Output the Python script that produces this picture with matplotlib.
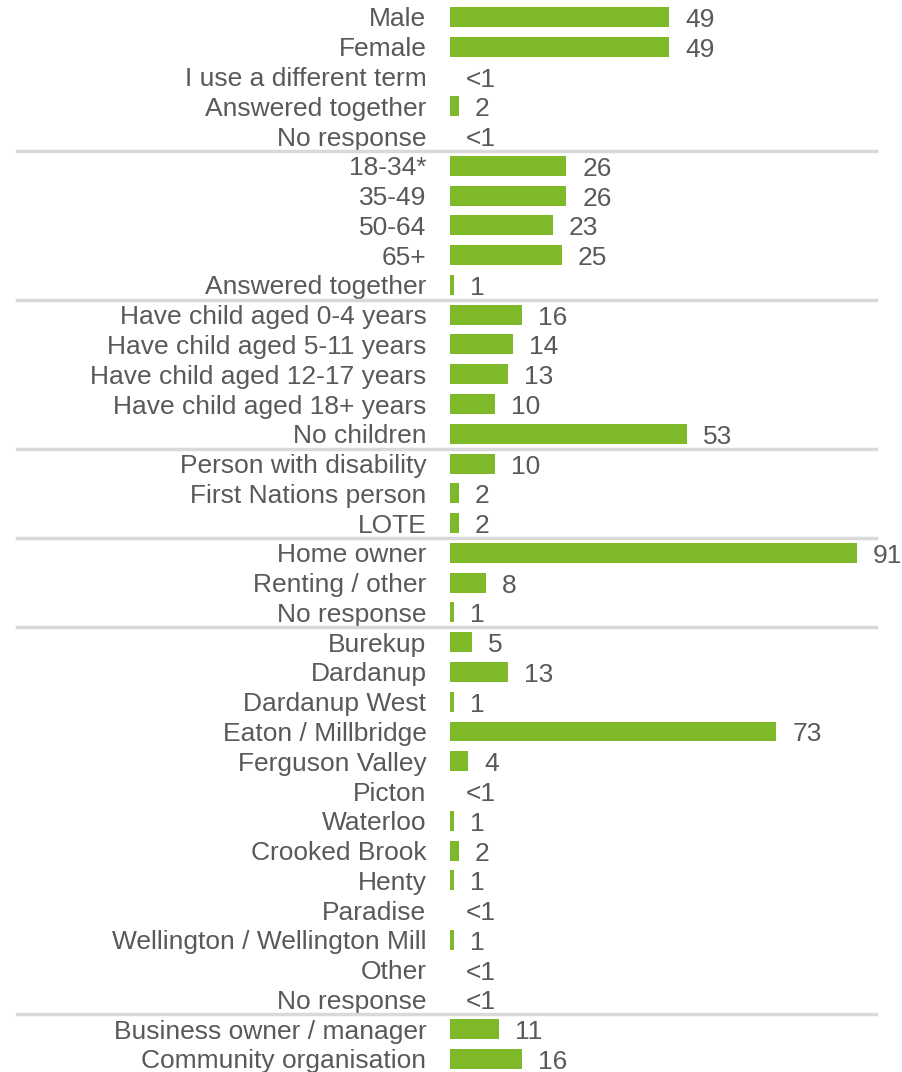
import matplotlib
matplotlib.use("Agg")
import matplotlib.pyplot as plt

categories = [
    "Male", "Female", "I use a different term", "Answered together", "No response",
    "18-34*", "35-49", "50-64", "65+", "Answered together",
    "Have child aged 0-4 years", "Have child aged 5-11 years",
    "Have child aged 12-17 years", "Have child aged 18+ years", "No children",
    "Person with disability", "First Nations person", "LOTE",
    "Home owner", "Renting / other", "No response",
    "Burekup", "Dardanup", "Dardanup West", "Eaton / Millbridge", "Ferguson Valley",
    "Picton", "Waterloo", "Crooked Brook", "Henty", "Paradise",
    "Wellington / Wellington Mill", "Other", "No response",
    "Business owner / manager", "Community organisation",
]
# None means "<1" (too small to draw)
values = [
    49, 49, None, 2, None,
    26, 26, 23, 25, 1,
    16, 14, 13, 10, 53,
    10, 2, 2,
    91, 8, 1,
    5, 13, 1, 73, 4, None, 1, 2, 1, None, 1, None, None,
    11, 16,
]
group_ends = [4, 9, 14, 17, 20, 33]

GREEN = "#7db928"
TEXT = "#595959"
W, H = 902, 1072
px_unit = 407 / 91
row_px = 29.77

plt.rcParams["font.family"] = ["Liberation Sans", "DejaVu Sans"]
fig = plt.figure(figsize=(W / 100, H / 100), dpi=100)
ax = fig.add_axes([450 / W, 0, 1 - 450 / W, 1])

n = len(categories)
ys = list(range(n))
widths = [v if v is not None else 0 for v in values]
ax.barh(ys, widths, height=0.67, color=GREEN)

ax.set_xlim(0, (W - 450) / px_unit)
ax.set_ylim(n - 1 + (H - 17 - (n - 1) * row_px) / row_px, -17 / row_px)
ax.set_yticks(ys)
ax.set_yticklabels(categories, fontsize=19, color=TEXT)
ax.tick_params(axis="y", length=0, pad=17)
ax.set_xticks([])
for s in ax.spines.values():
    s.set_visible(False)

off = 16 / px_unit
for y, w, v in zip(ys, widths, values):
    lab = "<1" if v is None else str(v)
    ax.text(w + off, y + 0.1, lab, ha="left", va="center", fontsize=19, color=TEXT)

for g in group_ends:
    ax.axhline(g + 0.5, xmin=(17 - 450) / (W - 450), xmax=(876 - 450) / (W - 450),
               color="#d9d9d9", lw=2.5, clip_on=False)

fig.savefig("out.png", dpi=100)
